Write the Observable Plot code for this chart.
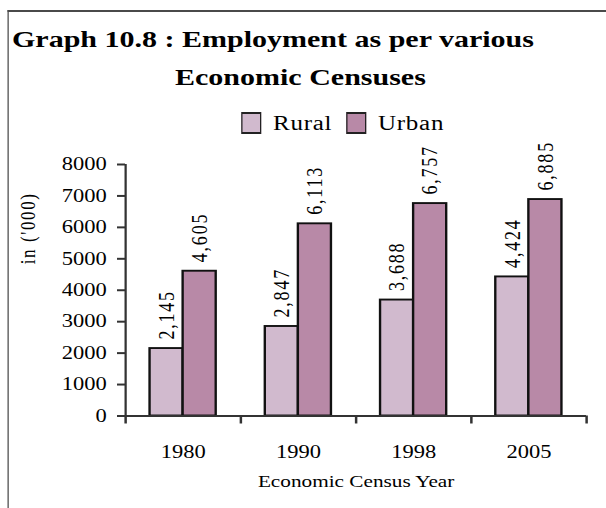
<!DOCTYPE html>
<html>
<head>
<meta charset="utf-8">
<script src="https://cdn.jsdelivr.net/npm/d3@7"></script>
<script src="https://cdn.jsdelivr.net/npm/@observablehq/plot@0.6"></script>
<style>
  html, body { margin: 0; padding: 0; background: #fff; }
  body { width: 606px; height: 508px; overflow: hidden; }
  #page { position: relative; width: 484.8px; height: 508px; transform: scaleX(1.25); transform-origin: 0 0;
          font-family: "Liberation Serif", "Times New Roman", serif; color: #000; }
  .frame { position: absolute; left: 6.4px; top: 10px; width: 480px; height: 500px;
           border-top: 2.5px solid #4a4a4a; border-left: 1.8px solid #4a4a4a; }
  .t { position: absolute; font-weight: bold; font-size: 24px; line-height: 24px; white-space: nowrap; }
  .leg { position: absolute; font-size: 20px; line-height: 20px; white-space: nowrap; letter-spacing: 0.6px; }
  .sw { position: absolute; width: 14.4px; height: 18px; border: 2px solid #222; border-left-width: 1.6px; border-right-width: 1.6px; }
  #chart { position: absolute; left: 0; top: 140px; }
</style>
</head>
<body>
<div id="page">
  <div class="frame"></div>
  <div class="t" id="t1" style="left:9.6px; top:27px;"></div>
  <div class="t" id="t2" style="left:140px; top:65px;"></div>
  <div class="sw" style="left:192.8px; top:112px; background:#D1BACE;"></div>
  <div class="leg" id="l1" style="left:218.4px; top:113px;"></div>
  <div class="sw" style="left:276.8px; top:112px; background:#B889A7;"></div>
  <div class="leg" id="l2" style="left:302.4px; top:113px;"></div>
  <div id="chart"></div>
</div>
<script>
// ---- data ----
const titleLine1 = "Graph 10.8 : Employment as per various";
const titleLine2 = "Economic Censuses";
const years = ["1980", "1990", "1998", "2005"];
const series = ["Rural", "Urban"];
const rural = [2145, 2847, 3688, 4424];
const urban = [4605, 6113, 6757, 6885];
const yTicks = [0, 1000, 2000, 3000, 4000, 5000, 6000, 7000, 8000];
const colors = ["#D1BACE", "#B889A7"];
const xTitle = "Economic Census Year";
const yTitle = "in ('000)";

document.getElementById("t1").textContent = titleLine1;
document.getElementById("t2").textContent = titleLine2;
document.getElementById("l1").textContent = series[0];
document.getElementById("l2").textContent = series[1];

// bar width as a fraction of each year's band
const bw = 0.287;
const table = [];
years.forEach((y, i) => {
  table.push({year: y, idx: i, series: series[0], value: rural[i], x1: i + 0.5 - bw, x2: i + 0.5});
  table.push({year: y, idx: i, series: series[1], value: urban[i], x1: i + 0.5, x2: i + 0.5 + bw});
});

const font = '"Liberation Serif", "Times New Roman", serif';

const chart = Plot.plot({
  width: 484.8,
  height: 368,
  marginLeft: 100,
  marginRight: 16,
  marginTop: 24,
  marginBottom: 92.5,
  style: {fontFamily: font, fontSize: "18px", color: "#000", background: "transparent", overflow: "visible"},
  x: {type: "linear", domain: [0, years.length]},
  y: {domain: [0, 8000]},
  color: {domain: series, range: colors},
  marks: [
    Plot.rectY(table, {x1: "x1", x2: "x2", y1: 0, y2: "value", fill: "series", stroke: "#111", strokeWidth: 1.9}),
    Plot.ruleX([0], {y1: 0, y2: 8000, stroke: "#333", strokeWidth: 1.8}),
    Plot.ruleY([0], {stroke: "#333", strokeWidth: 2.2}),
    Plot.axisY({ticks: yTicks, tickSize: 6.4, tickPadding: 8.8, tickFormat: d3.format("d"),
      stroke: "#333", strokeWidth: 2, label: null, fontSize: 18}),
    Plot.axisX({ticks: d3.range(years.length + 1), tickSize: 8, tickFormat: () => "",
      stroke: "#333", strokeWidth: 2, label: null}),
    Plot.axisX({ticks: years.map((_, i) => i + 0.5), tickSize: 0, tickPadding: 29,
      tickFormat: d => years[Math.floor(d)], label: null, fontSize: 18}),
    Plot.text(table, {x: d => (d.x1 + d.x2) / 2, y: "value", text: d => d3.format(",")(d.value),
      rotate: -90, textAnchor: "start", lineAnchor: "middle", dy: -9, fontSize: 18, fill: "#000",
      style: "letter-spacing: 1.8px"}),
    Plot.text([xTitle], {frameAnchor: "bottom", lineAnchor: "bottom", dy: 71.5, fontSize: 17, fill: "#000"}),
    Plot.text([yTitle], {frameAnchor: "left", rotate: -90, lineAnchor: "middle", dx: -78, dy: -26,
      fontSize: 17, fill: "#000"})
  ]
});
document.getElementById("chart").appendChild(chart);
// letter spacing for rotated value labels and y title
chart.querySelectorAll("text").forEach(t => {
  if (/^\d,\d{3}$/.test(t.textContent)) t.style.letterSpacing = "1.8px";
  if (t.textContent === yTitle) t.style.letterSpacing = "1.6px";
});
</script>
</body>
</html>
